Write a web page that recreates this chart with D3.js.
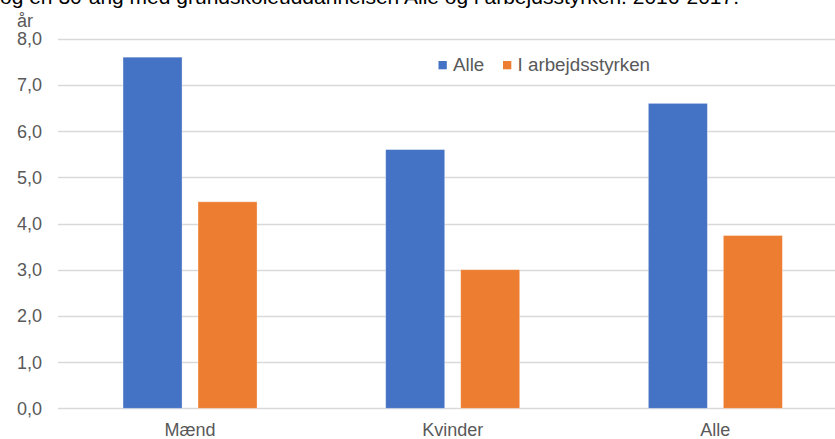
<!DOCTYPE html>
<html><head><meta charset="utf-8">
<script src="https://cdn.jsdelivr.net/npm/d3@7"></script>
<style>body{margin:0;background:#fff;}svg{display:block;font-family:"Liberation Sans",Arial,sans-serif;}</style>
</head><body>
<svg id="c" width="835" height="439"></svg>
<script>
const categories = ["Mænd", "Kvinder", "Alle"];
const seriesNames = ["Alle", "I arbejdsstyrken"];
const alleValues = [7.6, 5.6, 6.6];
const arbejdsValues = [4.47, 3.0, 3.74];
const yTicks = [0, 1, 2, 3, 4, 5, 6, 7, 8];
const colors = ["#4472C4", "#ED7D31"];
const titleText = "og en 30-årig med grundskoleuddannelsen Alle og i arbejdsstyrken. 2016-2017.";
const unitLabel = "år";

const svg = d3.select("#c");
const y = d3.scaleLinear().domain([0, 8]).range([408.3, 38.7]);
const x0 = d3.scaleBand().domain(categories).range([58.7, 846.7]).padding(0);
const x1 = d3.scaleBand().domain(seriesNames).range([-67, 67]).paddingInner(0.2133).paddingOuter(0);

// title (cut off at top, as in the reference)
svg.append("text").attr("x", 0).attr("y", 4).attr("font-size", 21).attr("fill", "#000").text(titleText);

// gridlines
svg.append("g").selectAll("line").data(yTicks).join("line")
  .attr("x1", 58).attr("x2", 835)
  .attr("y1", d => Math.round(y(d)) + 0.5).attr("y2", d => Math.round(y(d)) + 0.5)
  .attr("stroke", "#D9D9D9").attr("stroke-width", 1.3);

// y tick labels
svg.append("g").selectAll("text").data(yTicks).join("text")
  .attr("x", 42).attr("y", d => y(d) + 6.5).attr("text-anchor", "end")
  .attr("font-size", 18).attr("fill", "#595959")
  .text(d => d3.format(".1f")(d).replace(".", ","));

svg.append("text").attr("x", 25).attr("y", 26.5).attr("text-anchor", "middle")
  .attr("font-size", 18).attr("fill", "#595959").text(unitLabel);

// bars
const data = categories.map((c, i) => ({cat: c, vals: [
  {s: seriesNames[0], v: alleValues[i], c: colors[0]},
  {s: seriesNames[1], v: arbejdsValues[i], c: colors[1]}]}));
const g = svg.append("g").selectAll("g").data(data).join("g")
  .attr("transform", d => `translate(${x0(d.cat) + x0.bandwidth() / 2},0)`);
g.selectAll("rect").data(d => d.vals).join("rect")
  .attr("x", d => x1(d.s)).attr("width", x1.bandwidth())
  .attr("y", d => y(d.v)).attr("height", d => y(0) - y(d.v))
  .attr("fill", d => d.c).attr("stroke", "#fff").attr("stroke-opacity", 0.4).attr("stroke-width", 0.8);

// category labels
svg.append("g").selectAll("text").data(categories).join("text")
  .attr("x", d => x0(d) + x0.bandwidth() / 2).attr("y", 436).attr("text-anchor", "middle")
  .attr("font-size", 18).attr("fill", "#595959").text(d => d);

// legend
const legX = [438.5, 503];
const lg = svg.append("g").selectAll("g").data(seriesNames).join("g")
  .attr("transform", (d, i) => `translate(${legX[i]},61)`);
lg.append("rect").attr("width", 8.3).attr("height", 8.3).attr("fill", (d, i) => colors[i]);
lg.append("text").attr("x", 14.5).attr("y", 9.8).attr("font-size", 18.8).attr("fill", "#595959").text(d => d);
</script>
</body></html>
